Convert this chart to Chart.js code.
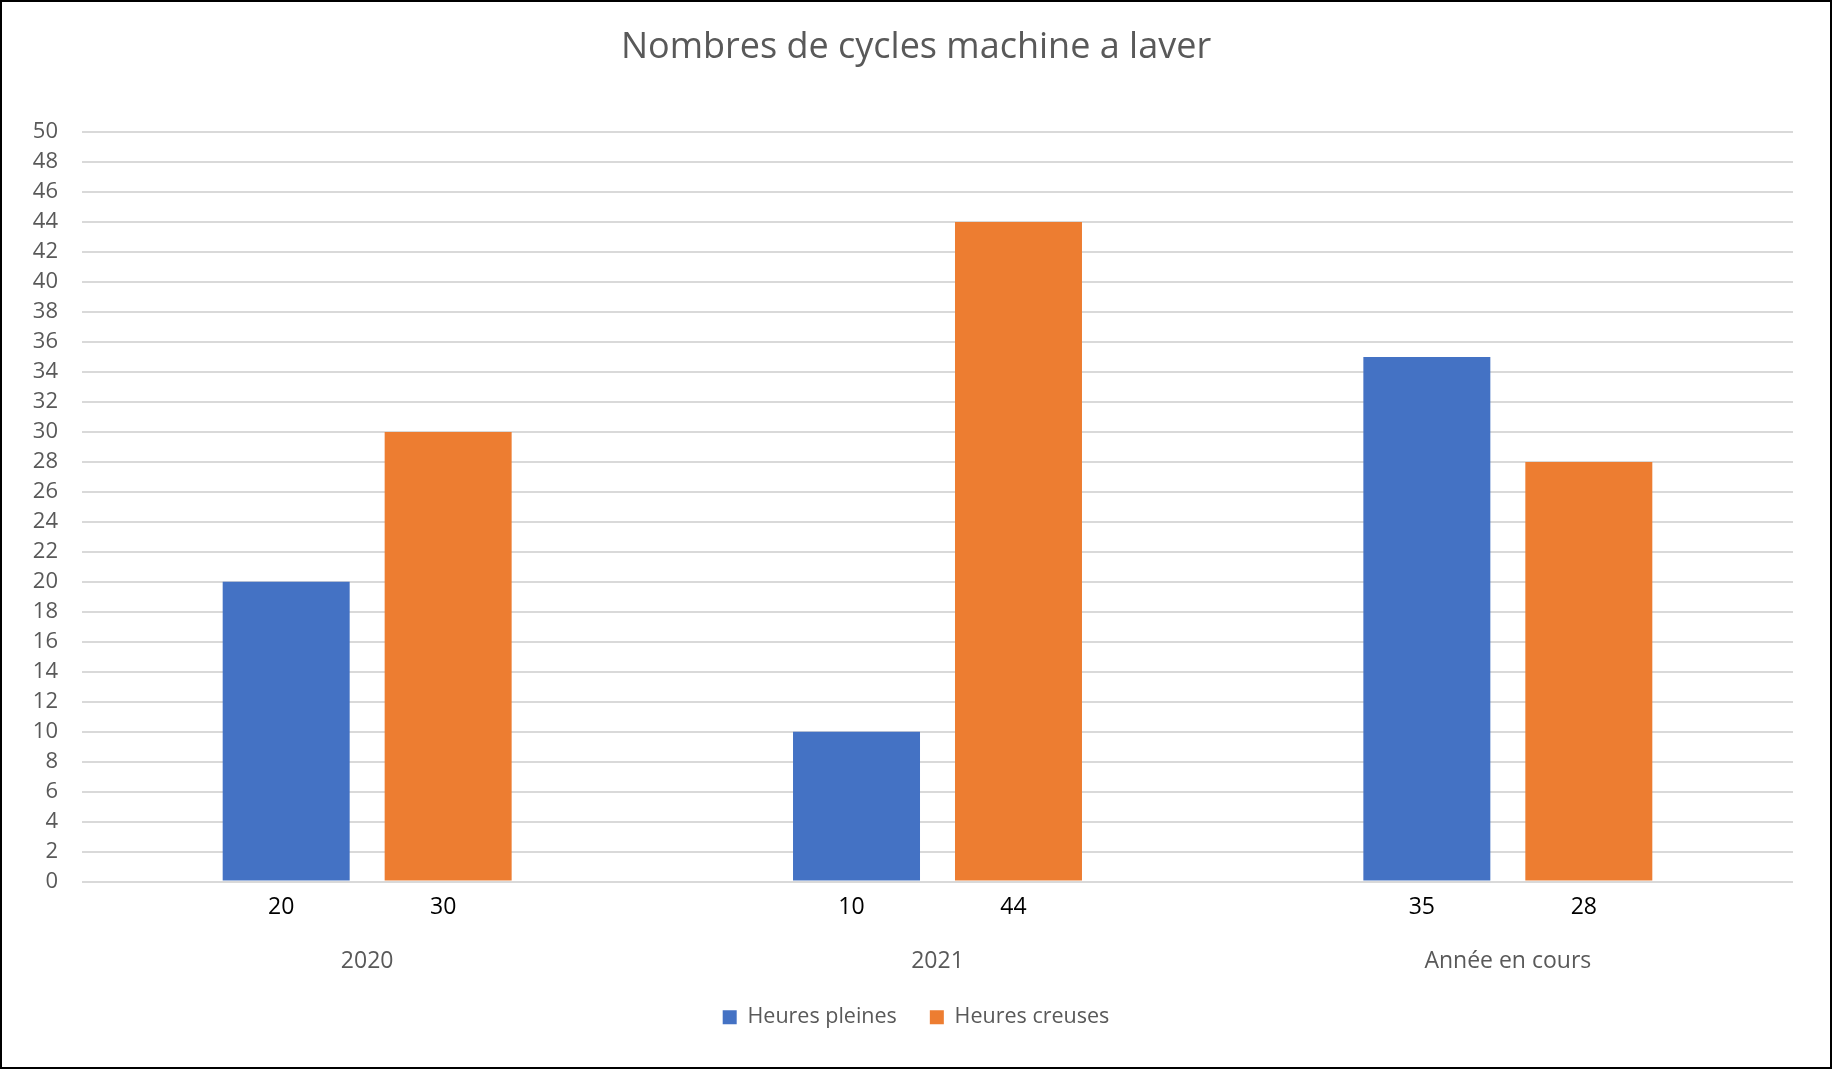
<!DOCTYPE html>
<html>
<head>
<meta charset="utf-8">
<script src="https://cdn.jsdelivr.net/npm/chart.js@4/dist/chart.umd.min.js"></script>
<style>
  html, body { margin: 0; padding: 0; background: #fff; }
  canvas { display: block; }
</style>
</head>
<body>
<canvas id="myChart" width="1832" height="1069"></canvas>
<script>
// chart values
let categories = ['2020', '2021', 'Année en cours'];
let seriesNames = ['Heures pleines', 'Heures creuses'];
let heuresPleines = [20, 10, 35];
let heuresCreuses = [30, 44, 28];
let seriesColors = ['#4472C4', '#ED7D31'];

let gray = '#595959';
let fontName = "'Open Sans', 'Liberation Sans', sans-serif";

// value labels drawn under each bar (like the Excel ones)
const valueLabels = {
    id: 'valueLabels',
    afterDatasetsDraw(chart) {
        let ctx = chart.ctx;
        ctx.save();
        ctx.fillStyle = '#000';
        ctx.font = '23px ' + fontName;
        ctx.textAlign = 'center';
        ctx.textBaseline = 'middle';
        chart.data.datasets.forEach((ds, i) => {
            let meta = chart.getDatasetMeta(i);
            meta.data.forEach((bar, j) => {
                ctx.fillText(ds.data[j], bar.x - 5, chart.chartArea.bottom + 26);
            });
        });
        ctx.restore();
    }
};

const frame = {
    id: 'frame',
    // widen the y label clip box so the tick labels are not cut
    afterLayout(chart) {
        chart.scales.y.left = 0;
    },
    beforeDraw(chart) {
        let ctx = chart.ctx;
        ctx.save();
        ctx.fillStyle = '#fff';
        ctx.fillRect(0, 0, chart.width, chart.height);
        ctx.restore();
    },
    afterDraw(chart) {
        let ctx = chart.ctx;
        ctx.save();
        ctx.strokeStyle = '#000';
        ctx.lineWidth = 2;
        ctx.strokeRect(1, 1, chart.width - 2, chart.height - 2);
        ctx.restore();
    }
};

const data = {
    labels: categories,
    datasets: [{
        label: seriesNames[0],
        data: heuresPleines,
        backgroundColor: seriesColors[0],
        categoryPercentage: 0.568,
        barPercentage: 0.784
    }, {
        label: seriesNames[1],
        data: heuresCreuses,
        backgroundColor: seriesColors[1],
        categoryPercentage: 0.568,
        barPercentage: 0.784
    }]
};

const config = {
    type: 'bar',
    data: data,
    plugins: [frame, valueLabels],
    options: {
        responsive: false,
        animation: false,
        layout: { padding: { left: 39, right: 39, top: 0, bottom: 31 } },
        plugins: {
            title: {
                display: true,
                text: 'Nombres de cycles machine a laver',
                color: gray,
                font: { family: fontName, size: 36, weight: 'normal' },
                padding: { top: 26, bottom: 63 }
            },
            legend: {
                position: 'bottom',
                labels: {
                    color: gray,
                    boxWidth: 14,
                    boxHeight: 14,
                    padding: 33,
                    font: { family: fontName, size: 21.5 }
                }
            },
            tooltip: { enabled: false }
        },
        scales: {
            x: {
                grid: { display: false },
                border: { display: false },
                ticks: {
                    color: gray,
                    padding: 58,
                    font: { family: fontName, size: 23 }
                },
                afterFit(scale) { scale.height = 92; }
            },
            y: {
                min: 0,
                max: 50,
                grid: { color: '#D9D9D9', lineWidth: 2, drawTicks: false },
                border: { display: false },
                ticks: {
                    stepSize: 2,
                    color: gray,
                    padding: 24,
                    font: { family: fontName, size: 22 }
                },
                afterFit(scale) { scale.width = 43; }
            }
        }
    }
};

let pirChart = document.getElementById('myChart');
var myChart = new Chart(pirChart, config);
</script>
</body>
</html>
